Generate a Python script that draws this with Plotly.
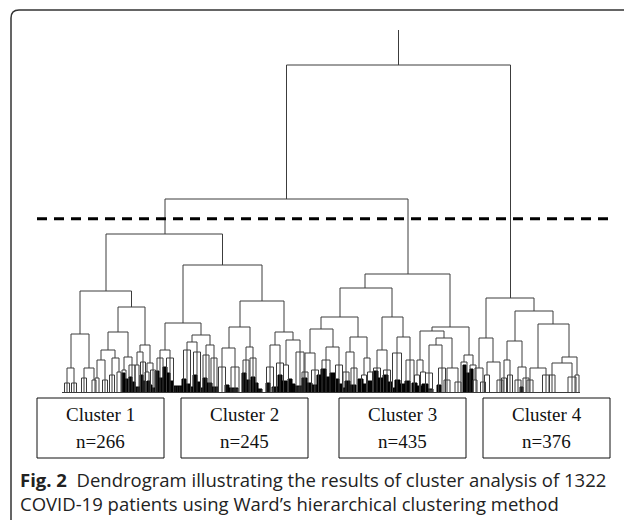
import plotly.graph_objects as go

# ---------------- data ----------------
# Dendrogram merges (leaf-order position of left/right child, merge height, child heights)
link_xl = [286.5, 165, 106, 80, 71, 118, 108, 101, 140, 67, 84, 97, 112, 124, 137, 147,
           183, 165, 160, 192, 187, 206, 240, 229, 222, 246, 275, 270, 286,
           365, 340, 321, 310, 305, 326, 350, 346, 364, 382, 377, 397, 432, 420, 417, 436, 429, 447, 464,
           486, 479, 475, 487, 515, 507, 504, 518, 538, 530, 562, 552]
link_xr = [510.5, 408, 222.5, 131.5, 89, 145, 128, 115, 150, 74, 94, 105, 119, 132, 143, 153,
           262, 201, 170, 210, 197, 214, 284, 250, 235, 253, 293, 280, 300,
           450, 392, 358, 333, 315, 339, 367, 354, 370, 403, 387, 410, 469, 444, 423, 452, 442, 458, 473,
           534, 493, 483, 500, 553, 522, 510, 526, 569, 546, 577, 572]
link_h = [328, 194, 159, 102, 59, 86, 61, 43, 48, 25, 25, 33, 35, 36, 41, 30,
          128, 70, 43, 58, 51, 48, 92, 66, 45, 46, 61, 48, 53,
          119, 105, 76, 64, 40, 46, 56, 41, 35, 76, 43, 56, 66, 62, 33, 55, 48, 25, 38,
          95, 55, 25, 31, 82, 52, 33, 26, 69, 25, 36, 30]
link_hl = [194, 159, 102, 59, 25, 61, 43, 33, 41, 10, 15, 15, 18, 23, 28, 21,
           70, 43, 35, 51, 43, 38, 66, 45, 26, 33, 48, 26, 28,
           105, 76, 64, 40, 21, 33, 41, 21, 18, 43, 25, 40, 62, 33, 18, 48, 20, 13, 31,
           55, 25, 13, 18, 52, 33, 15, 13, 25, 13, 30, 18]
link_hr = [95, 119, 128, 86, 25, 48, 36, 35, 30, 10, 13, 13, 21, 28, 31, 23,
           92, 58, 35, 48, 41, 35, 61, 46, 26, 35, 53, 30, 41,
           66, 76, 56, 46, 23, 28, 35, 25, 21, 56, 23, 33, 38, 55, 21, 25, 25, 11, 28,
           82, 31, 11, 13, 69, 26, 18, 15, 36, 18, 18, 16]
root_x = 398.5
root_h = 328
root_top = 363

# Terminal bushes: position, merge height, spread, number of visible leaves
bush_x = [67, 74, 84, 94, 97, 105, 112, 119, 124, 132, 137, 143, 147, 153,
          160, 170, 187, 197, 206, 214, 222, 235, 246, 253, 270, 280, 286, 300,
          305, 315, 326, 339, 346, 354, 364, 370, 377, 387, 397, 410, 417, 423, 429, 442, 447, 458, 464, 473,
          475, 483, 487, 500, 504, 510, 518, 526, 530, 546, 552, 572, 577]
bush_h = [10, 10, 15, 13, 15, 13, 18, 21, 23, 28, 28, 31, 21, 23,
          35, 35, 43, 41, 38, 35, 26, 26, 33, 35, 26, 30, 28, 41,
          21, 23, 33, 28, 21, 25, 18, 21, 25, 23, 40, 33, 18, 21, 20, 25, 13, 11, 31, 28,
          13, 11, 18, 13, 15, 18, 13, 15, 13, 18, 18, 16, 18]
bush_w = [5, 5, 5, 4, 4, 5, 5, 4, 4, 6, 4, 5, 4, 5,
          6, 7, 7, 7, 6, 6, 7, 8, 6, 6, 7, 7, 5, 8,
          6, 7, 8, 7, 6, 6, 5, 5, 7, 7, 9, 8, 5, 5, 7, 7, 6, 6, 6, 6,
          4, 5, 5, 6, 5, 5, 6, 6, 6, 7, 6, 8, 4]
bush_n = [3, 3, 3, 2, 2, 3, 3, 2, 2, 3, 2, 3, 2, 3,
          3, 3, 3, 3, 3, 3, 3, 3, 3, 3, 3, 3, 2, 3,
          3, 3, 3, 3, 3, 3, 2, 2, 3, 3, 3, 3, 2, 2, 3, 3, 3, 3, 2, 2,
          2, 3, 2, 3, 3, 3, 3, 3, 3, 3, 3, 3, 2]

# Dense leaf patches (near-identical patients merged at low height)
patch_xl = [122, 125, 129, 132, 140, 143, 147, 150, 155, 159, 163, 167, 170,
            182, 186, 193, 197, 203, 207, 225, 229, 242, 246, 251, 255, 266,
            278, 282, 288, 292, 302, 307, 317, 321, 326, 330, 335, 339,
            345, 350, 358, 363, 368, 373, 378, 383, 388, 395, 400, 405,
            412, 417, 422, 437, 463, 466, 470, 520,
            135, 152, 173, 190, 200, 212, 232, 258, 272, 295, 312, 342, 392, 428]
patch_xr = [125, 128, 132, 135, 143, 146, 150, 152, 159, 163, 167, 170, 173,
            186, 190, 197, 200, 207, 212, 229, 232, 246, 250, 255, 258, 270,
            282, 287, 292, 295, 307, 312, 321, 326, 330, 335, 339, 342,
            350, 356, 363, 368, 372, 378, 383, 388, 392, 400, 405, 410,
            417, 422, 428, 441, 466, 470, 473, 523,
            140, 155, 182, 193, 203, 218, 238, 262, 278, 302, 317, 345, 395, 433]
patch_h = [20, 14, 16, 11, 18, 12, 12, 8, 22, 15, 26, 20, 12,
           14, 9, 18, 11, 15, 10, 8, 5, 20, 13, 16, 10, 10,
           18, 12, 14, 9, 15, 10, 18, 24, 16, 20, 14, 9,
           12, 8, 14, 9, 12, 22, 15, 18, 11, 13, 9, 12,
           10, 7, 9, 8, 28, 20, 24, 6,
           6, 5, 7, 6, 5, 6, 5, 4, 6, 7, 8, 5, 5, 4]
patch_n = [8, 8, 8, 8, 8, 8, 7, 5, 10, 10, 10, 8, 8,
           10, 10, 10, 8, 10, 12, 8, 6, 10, 10, 10, 8, 8,
           10, 12, 10, 8, 12, 12, 10, 12, 10, 12, 10, 8,
           12, 14, 12, 12, 10, 12, 12, 12, 10, 12, 12, 12,
           12, 12, 14, 8, 8, 10, 8, 5,
           8, 5, 14, 6, 6, 10, 8, 6, 8, 10, 8, 5, 5, 6]

leaf_min = 62
leaf_max = 580
cut_height = 174.3

cluster_labels = ["Cluster 1", "Cluster 2", "Cluster 3", "Cluster 4"]
cluster_sizes = [266, 245, 435, 376]
n_patients = 1322

# ---------------- build line geometry ----------------
xs, ys = [], []
for xl, xr, h, hl, hr in zip(link_xl, link_xr, link_h, link_hl, link_hr):
    xs += [xl, xl, xr, xr, None]
    ys += [hl, h, h, hr, None]
xs += [root_x, root_x, None]
ys += [root_h, root_top, None]

for x, h, w, n in zip(bush_x, bush_h, bush_w, bush_n):
    x0, x1 = x - w / 2, x + w / 2
    xs += [x0, x1, None]
    ys += [h, h, None]
    for i in range(n):
        lx = x0 + i * (x1 - x0) / (n - 1)
        xs += [lx, lx, None]
        ys += [h, 0, None]

xs += [leaf_min, leaf_max, None]
ys += [0.5, 0.5, None]

pxs, pys = [], []
for xl, xr, h, n in zip(patch_xl, patch_xr, patch_h, patch_n):
    pxs += [xl, xr, None]
    pys += [h, h, None]
    for i in range(n):
        lx = xl + i * (xr - xl) / (n - 1)
        pxs += [lx, lx, None]
        pys += [h, 0, None]

fig = go.Figure()
fig.add_trace(go.Scatter(x=pxs, y=pys, mode="lines",
                         line=dict(color="#000000", width=1), hoverinfo="skip",
                         showlegend=False))
fig.add_trace(go.Scatter(x=xs, y=ys, mode="lines",
                         line=dict(color="#3c3c3c", width=1), hoverinfo="skip",
                         showlegend=False))
fig.add_trace(go.Scatter(x=[37, 611], y=[cut_height, cut_height], mode="lines",
                         line=dict(color="black", width=3, dash="10px,7px"),
                         hoverinfo="skip", showlegend=False))

# ---------------- cluster boxes ----------------
box_left = [37, 181, 339, 483]
box_width = 127
shapes = []
annotations = []
for lab, size, bx in zip(cluster_labels, cluster_sizes, box_left):
    shapes.append(dict(type="rect", xref="x", yref="y", x0=bx, x1=bx + box_width,
                       y0=-5, y1=-65, line=dict(color="#111", width=1)))
    annotations.append(dict(x=bx + box_width / 2, y=-21, xref="x", yref="y",
                            text=lab, showarrow=False,
                            font=dict(family="Liberation Serif", size=19, color="#111")))
    annotations.append(dict(x=bx + box_width / 2, y=-48, xref="x", yref="y",
                            text=f"n={size}", showarrow=False,
                            font=dict(family="Liberation Serif", size=19, color="#111")))

# frame with rounded top-left corner
shapes.append(dict(type="path", xref="x", yref="y",
                   path="M 11,-140 L 11,375 Q 11,383 19,383 L 640,383",
                   line=dict(color="#333", width=1.5)))

annotations.append(dict(x=18, y=-86, xref="x", yref="y", xanchor="left",
                        text=f"<b>Fig. 2</b>  Dendrogram illustrating the results of cluster analysis of {n_patients}",
                        showarrow=False,
                        font=dict(family="Open Sans", size=18.5, color="#222")))
annotations.append(dict(x=18, y=-110, xref="x", yref="y", xanchor="left",
                        text="COVID-19 patients using Ward’s hierarchical clustering method",
                        showarrow=False,
                        font=dict(family="Open Sans", size=18.5, color="#222")))

fig.update_layout(
    width=624, height=520,
    margin=dict(l=0, r=0, t=0, b=0),
    paper_bgcolor="white", plot_bgcolor="white",
    xaxis=dict(range=[0, 624], visible=False, fixedrange=True),
    yaxis=dict(range=[-127, 393], visible=False, fixedrange=True),
    shapes=shapes, annotations=annotations,
)
fig.write_html("out.html", config={"displayModeBar": False},
               post_script="document.body.style.margin='0px';")
